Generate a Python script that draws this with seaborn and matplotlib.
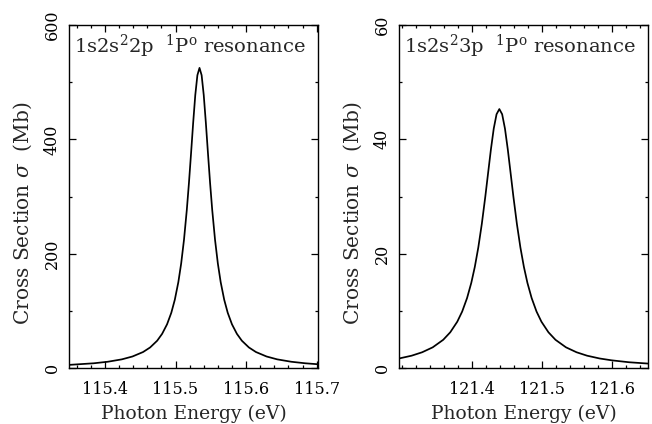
import numpy as np
import pandas as pd
import seaborn as sns
import matplotlib.pyplot as plt
from matplotlib.ticker import MultipleLocator

# values (photon energy in eV, cross section in Mb)
energy_2p = [115.349, 115.384, 115.404, 115.424, 115.439, 115.454, 115.464,
             115.474, 115.481, 115.488, 115.494, 115.499, 115.504, 115.508,
             115.512, 115.516, 115.519, 115.522, 115.525, 115.528, 115.531,
             115.534,
             115.537, 115.540, 115.543, 115.546, 115.549, 115.552, 115.556,
             115.560, 115.564, 115.569, 115.574, 115.580, 115.587, 115.594,
             115.604, 115.614, 115.629, 115.644, 115.664, 115.684, 115.702]
sigma_2p = [5.5, 8.3, 11.0, 15.2, 20.2, 28.0, 36.0,
            47.8, 59.8, 76.5, 96.6, 119.5, 150.3, 182.8,
            224.3, 276.7, 323.4, 375.3, 428.8, 477.4, 512.2,
            525.0,
            512.2, 477.4, 428.8, 375.3, 323.4, 276.7, 224.3,
            182.8, 150.3, 119.5, 96.6, 76.5, 59.8, 47.8,
            36.0, 28.0, 20.2, 15.2, 11.0, 8.3, 6.6]

energy_3p = [121.296, 121.314, 121.329, 121.344, 121.359, 121.369, 121.379,
             121.386, 121.393, 121.399, 121.404, 121.409, 121.414, 121.419,
             121.423, 121.427, 121.431, 121.435, 121.439,
             121.443, 121.447, 121.451, 121.455, 121.459, 121.464, 121.469,
             121.474, 121.479, 121.485, 121.492, 121.499, 121.509, 121.519,
             121.534, 121.549, 121.564, 121.582, 121.599, 121.624, 121.651]
sigma_3p = [1.67, 2.16, 2.76, 3.62, 4.94, 6.25, 8.10,
            9.88, 12.25, 14.90, 17.68, 21.09, 25.21, 30.00,
            34.15, 38.27, 41.88, 44.39, 45.3,
            44.39, 41.88, 38.27, 34.15, 30.00, 25.21, 21.09,
            17.68, 14.90, 12.25, 9.88, 8.10, 6.25, 4.94,
            3.62, 2.76, 2.16, 1.67, 1.35, 1.01, 0.78]

panels = [
    dict(x=energy_2p, y=sigma_2p, xlim=(115.349, 115.702), ylim=(0, 600),
         ymajor=200, yminor=100, xticks=[115.4, 115.5, 115.6, 115.7],
         label=r"1s2s$^2$2p  $^1$P$^\mathrm{o}$ resonance"),
    dict(x=energy_3p, y=sigma_3p, xlim=(121.296, 121.651), ylim=(0, 60),
         ymajor=20, yminor=10, xticks=[121.4, 121.5, 121.6],
         label=r"1s2s$^2$3p  $^1$P$^\mathrm{o}$ resonance"),
]

sns.set_style("ticks")
plt.rcParams['font.family'] = ['DejaVu Serif']
plt.rcParams['mathtext.fontset'] = 'dejavuserif'

fig = plt.figure(figsize=(6.52, 4.24), dpi=100)
axes = [fig.add_axes([0.1058, 0.132, 0.382, 0.809]),
        fig.add_axes([0.612, 0.132, 0.382, 0.809])]

for ax, p in zip(axes, panels):
    df = pd.DataFrame({"energy": p["x"], "sigma": p["y"]})
    sns.lineplot(data=df, x="energy", y="sigma", ax=ax, color="black",
                 linewidth=1.25, sort=True)

    ax.set_xlim(*p["xlim"])
    ax.set_ylim(*p["ylim"])
    ax.set_xticks(p["xticks"])
    ax.xaxis.set_minor_locator(MultipleLocator(0.02))
    ax.yaxis.set_major_locator(MultipleLocator(p["ymajor"]))
    ax.yaxis.set_minor_locator(MultipleLocator(p["yminor"]))
    ax.set_xticklabels([f"{t:.1f}" for t in p["xticks"]])
    for lab in ax.get_yticklabels():
        lab.set_rotation(90)
        lab.set_va("center")

    ax.tick_params(which="both", direction="in", top=True, right=True,
                   width=0.9, colors="black", labelsize=11.5)
    ax.tick_params(axis="x", which="major", length=5, pad=9)
    ax.tick_params(axis="y", which="major", length=5, pad=6)
    ax.tick_params(which="minor", length=2.5)
    for s in ax.spines.values():
        s.set_linewidth(1.0)
        s.set_color("black")

    ax.set_xlabel("Photon Energy (eV)", fontsize=13.5, labelpad=5)
    ax.set_ylabel(r"Cross Section $\sigma$  (Mb)", fontsize=14.5)
    ax.yaxis.set_label_coords(-0.14, 0.45)
    ax.text(0.02, 0.92, p["label"], transform=ax.transAxes, fontsize=14,
            ha="left", va="baseline")

fig.savefig("out.png", dpi=100, facecolor="white")
